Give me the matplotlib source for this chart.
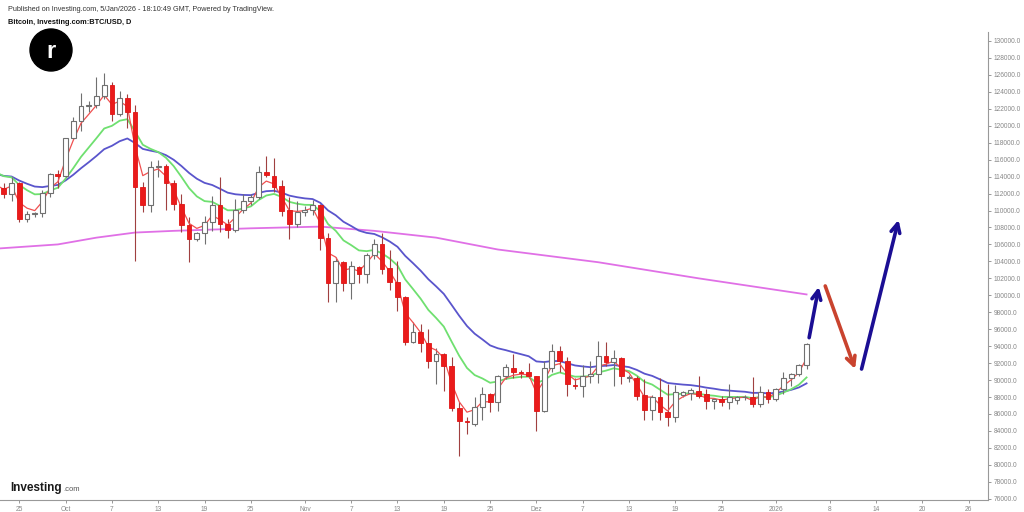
import numpy as np
import pandas as pd
import matplotlib
matplotlib.use("Agg")
import matplotlib.pyplot as plt
import matplotlib.dates as mdates
from matplotlib.patches import Ellipse

plt.rcParams['font.family'] = ['Liberation Sans', 'DejaVu Sans']

# daily candles, values in thousands of USD
dates = pd.date_range('2025-09-23', '2026-01-05', freq='D')
opens = [112.7, 112.0, 113.3, 109.0, 109.6, 109.7, 112.1, 114.3,
         114.1, 118.6, 120.6, 122.3, 122.4, 123.5, 124.8, 121.4, 123.3, 121.6,
         112.8, 110.7, 115.1, 115.2, 113.2, 110.8, 108.3, 106.6, 107.3, 108.6,
         110.6, 108.4, 107.7, 110.1, 111.1, 111.6, 114.6, 114.1, 112.9, 110.1, 108.4,
         109.8, 110.1, 110.6, 106.7, 101.5, 103.9, 101.4, 103.3, 102.5, 104.8,
         106.1, 103.2, 101.6, 99.8, 94.5, 95.7, 94.4, 92.2, 93.1, 91.7, 86.7,
         85.2, 84.8, 86.8, 88.4, 87.4, 90.5, 91.4, 90.9, 90.9,
         90.5, 86.4, 91.4, 93.4, 92.2, 89.4, 89.3, 90.5, 90.7, 92.8, 92.1,
         92.6, 90.3, 90.3, 88.2, 86.5, 88.0, 86.2, 85.6, 88.2, 88.5, 88.7,
         88.4, 87.5, 87.8, 87.4, 87.7, 88.0, 88.0, 87.2, 88.6,
         87.8, 88.9, 90.2, 90.7, 91.8]
highs = [113.3, 113.9, 113.4, 110.0, 109.8, 112.4, 114.4, 114.8,
         118.6, 121.0, 123.9, 122.9, 125.7, 126.2, 125.1, 124.1, 123.7, 122.5,
         113.4, 115.8, 116.0, 115.5, 113.6, 111.9, 109.2, 107.5, 109.4, 111.7,
         114.0, 109.0, 111.3, 112.0, 111.9, 115.3, 116.4, 116.2, 113.6, 111.6, 111.1,
         110.5, 111.2, 110.8, 107.3, 104.5, 104.1, 104.1, 103.4, 105.0, 106.6,
         107.4, 105.3, 104.0, 99.9, 96.8, 96.6, 96.0, 93.8, 93.2, 92.7, 87.4,
         85.6, 88.0, 89.2, 88.5, 90.6, 91.9, 93.1, 91.2, 92.0,
         90.5, 92.3, 94.2, 94.0, 92.7, 90.3, 91.8, 92.3, 94.6, 94.5, 93.6,
         92.7, 90.6, 90.5, 90.1, 88.2, 90.3, 89.5, 89.4, 88.7, 89.1, 90.5,
         88.9, 87.9, 88.1, 89.5, 88.1, 88.2, 90.4, 89.3, 89.0,
         89.1, 90.9, 90.8, 91.9, 94.4]
lows = [111.5, 111.1, 108.7, 108.7, 109.2, 109.2, 111.6, 112.7,
        113.9, 118.4, 119.4, 121.6, 122.1, 123.1, 120.6, 121.1, 119.7, 104.0,
        109.8, 109.8, 113.9, 110.1, 110.1, 107.5, 103.9, 106.4, 106.1, 107.6,
        107.5, 106.8, 107.5, 109.7, 110.6, 111.3, 113.9, 112.2, 109.3, 106.6, 108.1,
        109.4, 109.5, 105.4, 99.2, 99.2, 100.5, 99.6, 101.5, 101.5, 104.3,
        102.5, 100.6, 98.1, 94.1, 94.4, 93.3, 91.4, 89.5, 88.7, 86.3, 81.0,
        83.6, 84.6, 85.3, 86.2, 86.3, 90.1, 90.2, 90.2, 90.3,
        84.0, 86.2, 91.0, 90.9, 88.1, 88.9, 88.0, 89.6, 89.6, 91.6, 89.3,
        89.5, 89.8, 87.6, 85.3, 85.3, 85.3, 84.6, 85.1, 88.0, 87.6, 87.9,
        86.6, 86.6, 86.9, 86.6, 87.2, 87.6, 86.8, 86.8, 87.3,
        87.5, 88.3, 89.3, 90.5, 91.3]
closes = [112.0, 113.3, 109.0, 109.6, 109.7, 112.1, 114.3, 114.1,
          118.6, 120.6, 122.3, 122.4, 123.5, 124.8, 121.4, 123.3, 121.6, 112.8,
          110.7, 115.1, 115.2, 113.2, 110.8, 108.3, 106.6, 107.3, 108.6, 110.6,
          108.4, 107.7, 110.1, 111.1, 111.6, 114.6, 114.2, 112.8, 110.0, 108.4, 109.8,
          110.1, 110.6, 106.7, 101.5, 104.0, 101.4, 103.4, 102.5, 104.8, 106.0,
          103.1, 101.6, 99.8, 94.5, 95.7, 94.4, 92.3, 93.1, 91.7, 86.7, 85.2,
          85.0, 86.8, 88.4, 87.4, 90.5, 91.5, 90.9, 90.85, 90.5,
          86.4, 91.4, 93.4, 92.2, 89.5, 89.3, 90.5, 90.7, 92.8, 92.1, 92.6,
          90.5, 90.35, 88.1, 86.5, 88.0, 86.2, 85.6, 88.6, 88.6, 88.8, 88.1,
          87.5, 87.8, 87.4, 88.0, 88.0, 88.05, 87.2, 88.6, 87.8,
          89.0, 90.2, 90.7, 91.8, 94.2]

# moving average start values (Sep 22)
ma_seed_date = '2025-09-22'
ema_fast_seed, ema_mid_seed, ema_slow_seed = 113.0, 114.5, 114.3

# long moving average (magenta)
ma200_dates = pd.to_datetime(['2025-09-22', '2025-09-30', '2025-10-05', '2025-10-10',
                              '2025-10-15', '2025-10-25', '2025-11-03', '2025-11-10',
                              '2025-11-18', '2025-11-26', '2025-12-09', '2025-12-22',
                              '2026-01-05'])
ma200_vals = [105.5, 106.0, 106.8, 107.4, 107.6, 107.9, 108.1, 107.6,
              106.8, 105.4, 103.9, 102.0, 100.1]

# hand drawn arrows: (start date, start price, end date, end price, colour)
arrows = [
    ('2026-01-05 08:00', 95.0, '2026-01-06 14:00', 101.0, '#1b0e94'),
    ('2026-01-07 10:00', 101.1, '2026-01-11 07:00', 91.3, '#c9432e'),
    ('2026-01-12 03:00', 91.3, '2026-01-16 22:00', 108.9, '#1b0e94'),
]

tick_dates = pd.to_datetime(['2025-09-25', '2025-10-01', '2025-10-07', '2025-10-13',
                             '2025-10-19', '2025-10-25', '2025-11-01', '2025-11-07',
                             '2025-11-13', '2025-11-19', '2025-11-25', '2025-12-01',
                             '2025-12-07', '2025-12-13', '2025-12-19', '2025-12-25',
                             '2026-01-01', '2026-01-08', '2026-01-14', '2026-01-20',
                             '2026-01-26'])
tick_labels = ['25', 'Oct', '7', '13', '19', '25', 'Nov', '7', '13', '19', '25',
               'Dez', '7', '13', '19', '25', '2026', '8', '14', '20', '26']


def ema(seed, values, span):
    alpha = 2.0 / (span + 1)
    out = [seed]
    for v in values:
        out.append(out[-1] + alpha * (v - out[-1]))
    return np.array(out)


fig = plt.figure(figsize=(10.24, 5.12), dpi=100)
ax = fig.add_axes([0.0, 0.0234, 0.9648, 0.914])

x = mdates.date2num(dates)
o = np.array(opens) * 1000
h = np.array(highs) * 1000
l = np.array(lows) * 1000
c = np.array(closes) * 1000
up = c >= o

# moving averages
ma_x = np.concatenate([[mdates.date2num(pd.Timestamp(ma_seed_date))], x])
ax.plot(mdates.date2num(ma200_dates), np.array(ma200_vals) * 1000, color='#e070e6', lw=1.3, zorder=2)
ax.plot(ma_x, ema(ema_slow_seed, closes, 20) * 1000, color='#5a55cc', lw=1.3, zorder=2)
ax.plot(ma_x, ema(ema_mid_seed, closes, 10) * 1000, color='#6fe070', lw=1.3, zorder=2)
ax.plot(ma_x, ema(ema_fast_seed, closes, 3) * 1000, color='#f05050', lw=0.9, zorder=4)

# candles
w = 0.62
body_low = np.minimum(o, c)
body_h = np.maximum(np.abs(c - o), 60)
ax.vlines(x[up], l[up], h[up], color='#707070', lw=0.8, zorder=3)
ax.vlines(x[~up], l[~up], h[~up], color='#a04040', lw=0.8, zorder=3)
ax.bar(x[up], body_h[up], w, bottom=body_low[up], color='white', edgecolor='#707070',
       lw=0.8, zorder=5)
ax.bar(x[~up], body_h[~up], w, bottom=body_low[~up], color='#ea1b1b', edgecolor='#e01515',
       lw=0.6, zorder=5)

for d0, p0, d1, p1, col in arrows:
    ax.annotate('', xy=(mdates.date2num(pd.Timestamp(d1)), p1 * 1000),
                xytext=(mdates.date2num(pd.Timestamp(d0)), p0 * 1000),
                arrowprops=dict(arrowstyle='->', color=col, lw=2.6, mutation_scale=16,
                                shrinkA=0, shrinkB=0), zorder=6)

ax.set_xlim(mdates.date2num(pd.Timestamp('2025-09-22 12:00')),
            mdates.date2num(pd.Timestamp('2026-01-28 12:00')))
ax.set_ylim(75850, 131050)

ax.yaxis.tick_right()
ax.set_yticks(np.arange(76000, 130001, 2000))
ax.set_yticklabels([f"{v:.1f}" for v in np.arange(76000, 130001, 2000)])
ax.set_xticks(mdates.date2num(tick_dates))
ax.set_xticklabels(tick_labels)
ax.tick_params(axis='both', labelsize=4.8, colors='#888888', length=2, width=0.6, pad=2)

for side in ['left', 'top']:
    ax.spines[side].set_visible(False)
for side in ['right', 'bottom']:
    ax.spines[side].set_color('#999999')
    ax.spines[side].set_linewidth(0.8)

# header texts and logos
fig.text(0.008, 0.982, 'Published on Investing.com, 5/Jan/2026 - 18:10:49 GMT, Powered by TradingView.',
         fontsize=5.25, color='#333333', va='center')
fig.text(0.008, 0.957, 'Bitcoin, Investing.com:BTC/USD, D', fontsize=5.3, color='#111111',
         fontweight='bold', va='center')

logo = Ellipse((51 / 1024, 1 - 50 / 512), 42 / 1024, 42 / 512, transform=fig.transFigure,
               color='black', zorder=10)
fig.add_artist(logo)
fig.text(51 / 1024, 1 - 51 / 512, 'r', fontsize=17, color='white', fontweight='bold',
         ha='center', va='center', zorder=11)

fig.text(0.010, 0.046, 'Investing', fontsize=8.5, fontweight='bold', color='#1a1a1a', va='center')
fig.text(0.0615, 0.044, '.com', fontsize=5.5, color='#555555', va='center')

fig.savefig('out.png', dpi=100)
